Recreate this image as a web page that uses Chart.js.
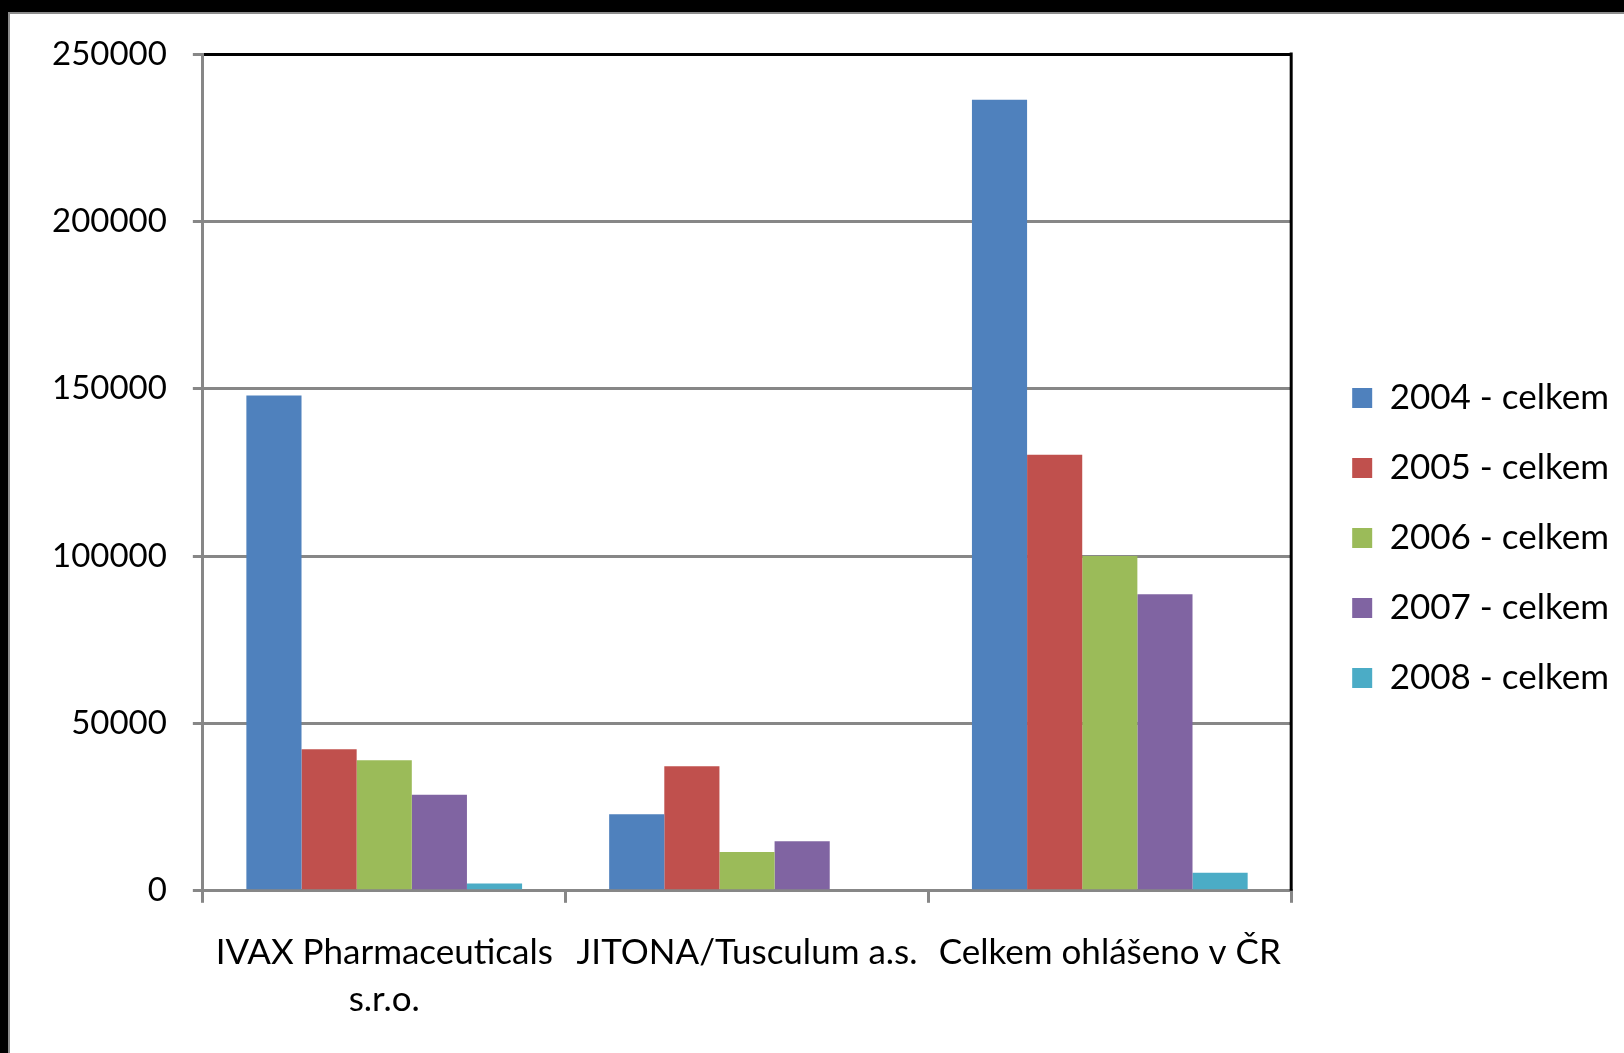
<!DOCTYPE html>
<html>
<head>
<meta charset="utf-8">
<script src="https://cdn.jsdelivr.net/npm/chart.js@4/dist/chart.umd.min.js"></script>
<style>
  html, body { margin: 0; padding: 0; background: #000; }
  #frame {
    position: absolute; left: 8px; top: 12px;
    width: 1614px; height: 1039px;
    background: #fff;
    border-top: 2px solid #8c8c8c;
    border-left: 2px solid #8c8c8c;
  }
  canvas { display: block; }
</style>
</head>
<body>
<div id="frame"><canvas id="graf" width="1614" height="1039"></canvas></div>
<script>
const kategorie = [["IVAX Pharmaceuticals", "s.r.o."], "JITONA/Tusculum a.s.", "Celkem ohlášeno v ČR"];
const roky = ["2004 - celkem", "2005 - celkem", "2006 - celkem", "2007 - celkem", "2008 - celkem"];
const hodnoty2004 = [148000, 22900, 236300];
const hodnoty2005 = [42300, 37200, 130300];
const hodnoty2006 = [39000, 11600, 100000];
const hodnoty2007 = [28700, 14800, 88600];
const hodnoty2008 = [2200, 0, 5400];
const yTicky = [0, 50000, 100000, 150000, 200000, 250000];

const barvy = ['#4F81BD', '#C0504D', '#9BBB59', '#8064A2', '#4BACC6'];
const serie = [hodnoty2004, hodnoty2005, hodnoty2006, hodnoty2007, hodnoty2008];

const pismoOsa = { family: 'Lato, "Open Sans", sans-serif', size: 33, lineHeight: 0.8 };
const pismo = { family: 'Lato, "Open Sans", sans-serif', size: 35 };
const seda = '#878787';

// cerny ramecek vpravo + posun legendy
const ramecek = {
  id: 'ramecek',
  afterLayout(chart) {
    const leg = chart.legend;
    if (leg) {
      leg.left += 26; leg.right += 26;
      leg.top -= 14; leg.bottom -= 14;
    }
  },
  afterDatasetsDraw(chart) {
    const a = chart.chartArea, ctx = chart.ctx;
    ctx.save();
    ctx.strokeStyle = '#000';
    ctx.lineWidth = 3;
    ctx.beginPath();
    ctx.moveTo(a.right, a.top - 1.5);
    ctx.lineTo(a.right, a.bottom);
    ctx.stroke();
    ctx.restore();
  }
};

new Chart(document.getElementById("graf"), {
  type: 'bar',
  data: {
    labels: kategorie,
    datasets: serie.map((d, i) => ({
      label: roky[i],
      data: d,
      backgroundColor: barvy[i],
      borderWidth: 0
    }))
  },
  plugins: [ramecek],
  options: {
    responsive: false,
    animation: false,
    layout: { padding: { left: 16, top: 40, bottom: 3, right: 31 } },
    datasets: { bar: { categoryPercentage: 0.76, barPercentage: 1.0 } },
    plugins: {
      tooltip: { enabled: false },
      legend: {
        position: 'right',
        labels: {
          color: '#000',
          font: pismo,
          boxWidth: 20,
          boxHeight: 20,
          padding: 35
        }
      }
    },
    scales: {
      x: {
        grid: {
          offset: true,
          drawOnChartArea: false,
          drawTicks: true,
          tickLength: 12,
          tickColor: seda,
          lineWidth: 3
        },
        border: { color: seda, width: 3 },
        ticks: { color: '#000', font: { ...pismo, lineHeight: 1.36 }, padding: 26, maxRotation: 0 }
      },
      y: {
        min: 0,
        max: 250000,
        afterBuildTicks: ax => { ax.ticks = yTicky.map(v => ({ value: v })); },
        grid: {
          color: c => (c.tick && c.tick.value === 250000) ? '#000' : seda,
          tickColor: seda,
          lineWidth: 3,
          tickLength: 10
        },
        border: { color: seda, width: 3 },
        ticks: { color: '#000', font: pismoOsa, padding: 26, callback: v => String(v) }
      }
    }
  }
});
</script>
</body>
</html>
